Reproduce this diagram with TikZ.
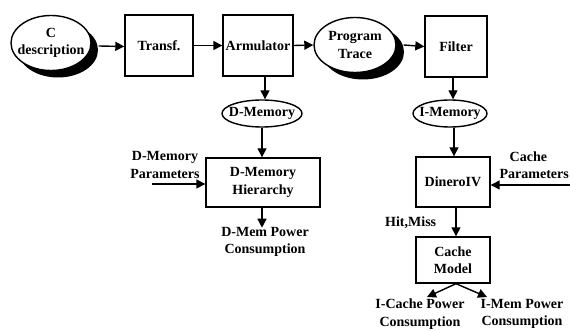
\documentclass[tikz,border=0pt]{standalone}
\usepackage{fontspec}
\setmainfont{Liberation Serif}
\usetikzlibrary{shapes.geometric,arrows.meta}
\begin{document}
\begin{tikzpicture}[x=1pt,y=-1pt,
  font=\fontsize{14}{17.5}\selectfont\bfseries,
  box/.style={draw,line width=1.4pt,rectangle,align=center,inner sep=0pt},
  oval/.style={draw,line width=1.4pt,ellipse,fill=white,inner sep=0pt},
  ovaltext/.style={inner sep=0pt,align=center},
  shad/.style={ellipse,fill=black,inner sep=0pt},
  lbl/.style={align=center,inner sep=0pt},
  arr/.style={line width=1.4pt,-{Triangle[length=9pt,width=9pt]}}]
\useasboundingbox (0,0) rectangle (570,331);
% shadows
\node[shad,minimum width=80pt,minimum height=55pt] (cdescS) at (58,50) {};
\node[shad,minimum width=82pt,minimum height=55pt] (ptraceS) at (363,52) {};
% top row
\node[oval,minimum width=80pt,minimum height=55pt] (cdesc) at (51,43) {};
\node[ovaltext] (cdescT) at (cdesc.center) {C\\description};
\node[box,minimum width=68pt,minimum height=61pt] (transf) at (159,45.5) {Transf.};
\node[box,minimum width=70pt,minimum height=61pt] (arm) at (258,45.5) {Armulator};
\node[oval,minimum width=82pt,minimum height=55pt] (ptrace) at (355,45) {};
\node[ovaltext] (ptraceT) at (ptrace.center) {Program\\Trace};
\node[box,minimum width=62pt,minimum height=61pt] (filter) at (456,46.5) {Filter};
% memories
\node[oval,minimum width=80pt,minimum height=27pt] (dmem) at (262,113.5) {};
\node[ovaltext] (dmemT) at (dmem.center) {D-Memory};
\node[oval,minimum width=74pt,minimum height=27pt] (imem) at (450,113.5) {};
\node[ovaltext] (imemT) at (imem.center) {I-Memory};
% hierarchy
\node[box,minimum width=114pt,minimum height=49pt] (dhier) at (263,182.5) {D-Memory\\Hierarchy};
\node[box,minimum width=74pt,minimum height=50pt] (dinero) at (453,182) {DineroIV};
\node[box,minimum width=74pt,minimum height=46pt] (cmodel) at (453,260) {Cache\\Model};
% labels
\node[lbl] (dpar) at (165,165) {D-Memory\\Parameters};
\coordinate (dparS) at (152,184);
\node[lbl,anchor=east] (cpar) at (569,165) {Cache\phantom{rs}\\Parameters};
\coordinate (cparS) at (570,185);
\node[lbl] (dpow) at (265,242) {D-Mem Power\\Consumption};
\node[lbl,anchor=west] (hitmiss) at (385,223) {Hit,Miss};
\node[lbl] (icpow) at (420,314) {I-Cache Power\\Consumption};
\node[lbl] (impow) at (522,314) {I-Mem Power\\Consumption};
% connectors
\draw[arr] (cdesc.east) ++(7,3) -- (transf.west |- 0,46.5);
\draw[arr] (transf) -- (arm);
\draw[arr] (arm.east) -- (ptrace.west);
\draw[arr] (ptrace.east) ++(7,0) -- (filter.west);
\draw[arr] (arm.south) ++(7,0) -- (dmem.north -| 265,0);
\draw[arr] (filter.south) ++(-3,0) -- (imem.north -| 453,0);
\draw[arr] (dmem.south) -- (dhier.north -| dmem.south);
\draw[arr] (imem.south) ++(4,0) -- (dinero.north -| 454,0);
\draw[arr] (dparS) -- (dparS -| dhier.west);
\draw[arr] (cparS) -- (cparS -| dinero.east);
\draw[arr] (dhier.south) ++(-1,0) -- ++(0,20);
\draw[arr] (dinero.south) ++(3,0) -- (cmodel.north -| 456,0);
\draw[arr] (cmodel.south) ++(3,0) -- (427,297);
\draw[arr] (cmodel.south) ++(3,0) -- (487,297);
\end{tikzpicture}
\end{document}
